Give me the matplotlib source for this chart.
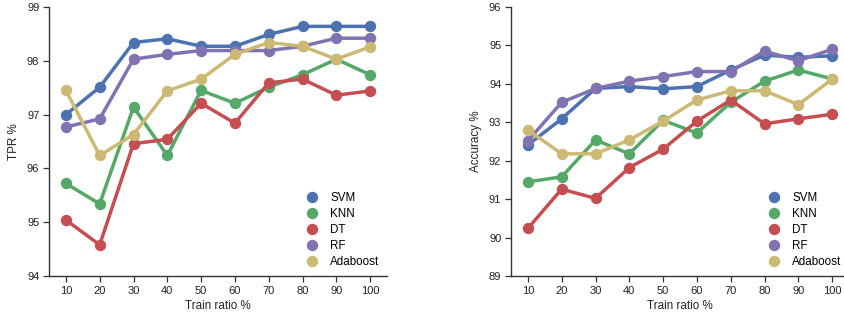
import matplotlib
matplotlib.use("Agg")
import matplotlib.pyplot as plt
from matplotlib.lines import Line2D

ratios = ["10", "20", "30", "40", "50", "60", "70", "80", "90", "100"]
models = ["SVM", "KNN", "DT", "RF", "Adaboost"]
colors = ["#4C72B0", "#55A868", "#C44E52", "#8172B2", "#CCB974"]

tpr_svm = [97.00, 97.51, 98.34, 98.41, 98.27, 98.27, 98.49, 98.64, 98.64, 98.64]
tpr_knn = [95.72, 95.34, 97.14, 96.24, 97.45, 97.21, 97.51, 97.74, 98.03, 97.74]
tpr_dt = [95.04, 94.58, 96.46, 96.54, 97.21, 96.84, 97.59, 97.66, 97.36, 97.44]
tpr_rf = [96.77, 96.92, 98.03, 98.12, 98.19, 98.19, 98.19, 98.27, 98.42, 98.42]
tpr_ada = [97.45, 96.24, 96.63, 97.44, 97.66, 98.12, 98.34, 98.27, 98.03, 98.26]

acc_svm = [92.41, 93.09, 93.88, 93.93, 93.87, 93.93, 94.36, 94.75, 94.69, 94.73]
acc_knn = [91.45, 91.58, 92.54, 92.18, 93.05, 92.72, 93.52, 94.07, 94.36, 94.13]
acc_dt = [90.24, 91.26, 91.02, 91.82, 92.30, 93.03, 93.58, 92.96, 93.09, 93.21]
acc_rf = [92.52, 93.52, 93.88, 94.07, 94.19, 94.32, 94.32, 94.85, 94.60, 94.90]
acc_ada = [92.80, 92.18, 92.18, 92.54, 93.03, 93.58, 93.82, 93.82, 93.46, 94.12]

tpr_ticks = [94, 95, 96, 97, 98, 99]
acc_ticks = [89, 90, 91, 92, 93, 94, 95, 96]

plt.rcParams['font.family'] = ['Liberation Sans', 'DejaVu Sans']

W, H = 845, 322
fig = plt.figure(figsize=(W / 100, H / 100), dpi=100)

def panel(rect, series, ticks, ylabel):
    ax = fig.add_axes(rect)
    x = list(range(len(ratios)))
    for vals, c in zip(series, colors):
        ax.plot(x, vals, color=c, lw=2.5, marker="o", ms=8.2, mew=0,
                solid_capstyle="round", zorder=3)
    ax.set_xlim(-0.5, len(ratios) - 0.5)
    ax.set_ylim(ticks[0], ticks[-1])
    ax.set_xticks(x)
    ax.set_xticklabels(ratios)
    ax.set_yticks(ticks)
    for s in ["top", "right"]:
        ax.spines[s].set_visible(False)
    for s in ["left", "bottom"]:
        ax.spines[s].set_color("#333333")
        ax.spines[s].set_linewidth(1.0)
    ax.tick_params(axis="both", direction="out", length=4, width=0.9,
                   color="#333333", labelsize=8, labelcolor="#222222", pad=3)
    ax.set_xlabel("Train ratio %", fontsize=8.4, color="#222222", labelpad=3)
    ax.set_ylabel(ylabel, fontsize=8.4, color="#222222", labelpad=5)
    handles = [Line2D([], [], ls="none", marker="o", ms=8.2, mew=0, color=c)
               for c in colors]
    ax.legend(handles, models, loc="lower right", frameon=False, fontsize=8.4,
              handletextpad=0.6, labelspacing=0.36, borderaxespad=0.25,
              bbox_to_anchor=(1.0, 0.0))
    return ax

y0 = (H - 276) / H
h = (276 - 7) / H
panel([49 / W, y0, 338 / W, h],
      [tpr_svm, tpr_knn, tpr_dt, tpr_rf, tpr_ada], tpr_ticks, "TPR %")
panel([511 / W, y0, 338 / W, h],
      [acc_svm, acc_knn, acc_dt, acc_rf, acc_ada], acc_ticks, "Accuracy %")

fig.savefig("out.png", dpi=100)
